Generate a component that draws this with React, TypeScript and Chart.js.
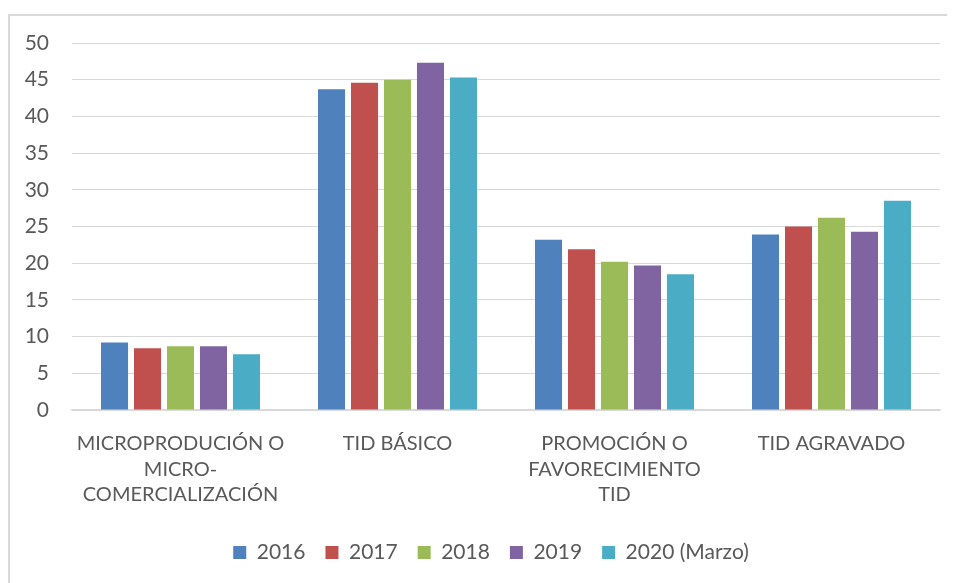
import React, { useEffect, useRef } from "react";
import { Chart, registerables } from "chart.js";

Chart.register(...registerables);

const categories: (string | string[])[] = [
  ["MICROPRODUCIÓN O", "MICRO-", "COMERCIALIZACIÓN"],
  "TID BÁSICO",
  ["PROMOCIÓN O", "FAVORECIMIENTO", "TID"],
  "TID AGRAVADO",
];
const seriesNames = ["2016", "2017", "2018", "2019", "2020 (Marzo)"];
const values2016 = [9.2, 43.7, 23.2, 23.9];
const values2017 = [8.4, 44.6, 21.9, 25.0];
const values2018 = [8.7, 45.0, 20.2, 26.2];
const values2019 = [8.7, 47.3, 19.7, 24.3];
const values2020 = [7.6, 45.3, 18.5, 28.5];
const colors = ["#4F81BD", "#C0504D", "#9BBB59", "#8064A2", "#4BACC6"];

const FONT = "Lato, 'Liberation Sans', Arial, sans-serif";
const TEXT = "#595959";

const shiftLegend = {
  id: "shiftLegend",
  afterLayout(chart: any) {
    const l = chart.legend;
    if (l) {
      l.left += 16;
      l.right += 16;
    }
  },
};

export default function App() {
  const ref = useRef<HTMLCanvasElement | null>(null);
  useEffect(() => {
    if (!ref.current) return;
    const all = [values2016, values2017, values2018, values2019, values2020];
    const chart = new Chart(ref.current, {
      type: "bar",
      data: {
        labels: categories,
        datasets: all.map((d, i) => ({
          label: seriesNames[i],
          data: d,
          backgroundColor: colors[i],
          borderWidth: 0,
          categoryPercentage: 0.76,
          barPercentage: 0.82,
        })),
      },
      plugins: [shiftLegend],
      options: {
        animation: false,
        responsive: false,
        devicePixelRatio: 1,
        layout: { padding: { top: 27, right: 7, left: 0, bottom: 10 } },
        plugins: {
          tooltip: { enabled: false },
          legend: {
            position: "bottom",
            labels: {
              color: TEXT,
              font: { family: FONT, size: 21 },
              boxWidth: 13,
              boxHeight: 13,
              padding: 20,
            },
          },
        },
        scales: {
          x: {
            grid: { display: false, drawTicks: false },
            border: { display: true, color: "#d9d9d9", width: 1.5 },
            ticks: {
              color: TEXT,
              font: { family: FONT, size: 20, lineHeight: 25.5 / 20 },
              maxRotation: 0,
              autoSkip: false,
              padding: 21,
            },
            afterFit: (s: any) => {
              s.height = 112;
            },
          },
          y: {
            min: 0,
            max: 50,
            grid: {
              color: "#d9d9d9",
              lineWidth: 1,
              drawTicks: true,
              tickLength: 23,
              tickColor: "rgba(0,0,0,0)",
            },
            border: { display: false },
            ticks: {
              stepSize: 5,
              color: TEXT,
              font: { family: FONT, size: 21 },
              padding: 0,
            },
            afterFit: (s: any) => {
              s.width = 62;
            },
          },
        },
      },
    });
    return () => chart.destroy();
  }, []);
  return (
    <div
      style={{
        marginTop: 6,
        borderTop: "2px solid #d9d9d9",
        borderLeft: "2px solid #d9d9d9",
        width: 945,
        height: 567,
        overflow: "hidden",
        background: "#fff",
      }}
    >
      <canvas ref={ref} width={937} height={567} style={{ display: "block" }} />
    </div>
  );
}
